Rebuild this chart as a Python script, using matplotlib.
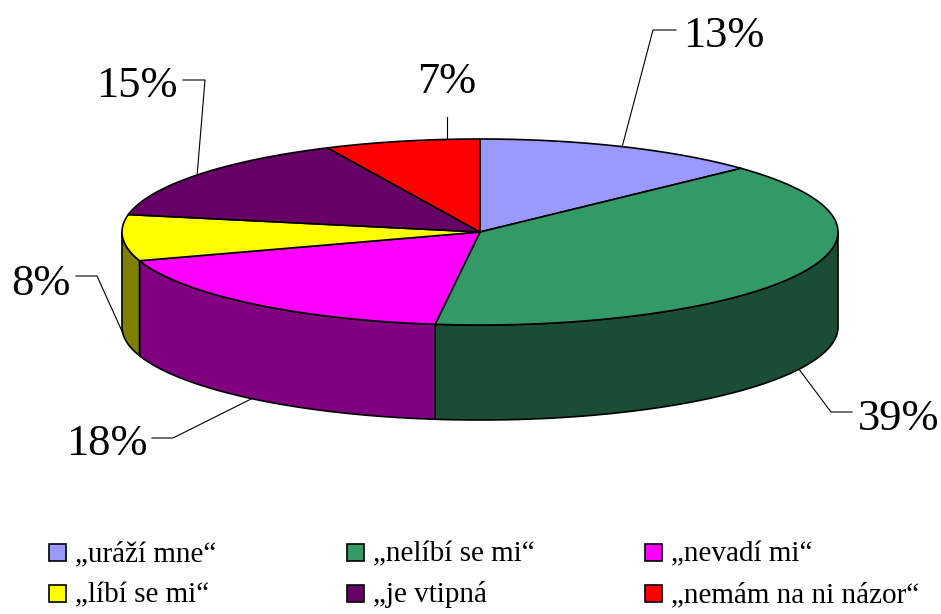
import numpy as np
import matplotlib
matplotlib.use('Agg')
import matplotlib.pyplot as plt
from matplotlib.patches import Polygon, Rectangle

plt.rcParams['font.family'] = ['Liberation Serif', 'DejaVu Serif']

# Data
labels = ['„uráží mne“', '„nelíbí se mi“', '„nevadí mi“',
          '„líbí se mi“', '„je vtipná', '„nemám na ni názor“']
values = [13, 39, 18, 8, 15, 7]
colors = ['#9999FF', '#339966', '#FF00FF', '#FFFF00', '#660066', '#FF0000']
side_colors = ['#4D4D80', '#1A4D33', '#800080', '#808000', '#330033', '#800000']

# Pie geometry (pixels)
CX, CY, RX, RY, DEPTH = 480, 232, 358, 93, 95

# Percentage labels: text x, baseline y, alignment, leader line points before the slice
label_pos = [(683, 47, 'left'), (858, 430, 'left'), (148, 455, 'right'),
             (71, 295, 'right'), (178, 97, 'right'), (447, 93, 'center')]
leader_pts = [[(676, 30), (653, 30)], [(852, 412), (831, 412)],
              [(152, 438), (173, 438)], [(76, 276), (97, 276)],
              [(183, 80), (205, 80)], [(447, 117), (447, 139)]]
to_slice = [True, True, True, True, True, False]

# Legend layout
leg_x = [49, 347, 645]
leg_y = [561, 602]


def ell(t, dy=0):
    t = np.radians(t)
    return CX + RX * np.cos(t), CY - RY * np.sin(t) + dy


def arc(t0, t1, dy=0, n=120):
    ts = np.linspace(t0, t1, n)
    x, y = ell(ts, dy)
    return np.column_stack([x, y])


fig = plt.figure(figsize=(9.41, 6.14), dpi=100)
ax = fig.add_axes([0, 0, 1, 1])
ax.set_xlim(0, 941)
ax.set_ylim(614, 0)
ax.axis('off')

total = float(sum(values))
cum = np.concatenate([[0], np.cumsum(values)]) / total
starts = 90 - 360 * cum[:-1]
ends = 90 - 360 * cum[1:]

# side walls (front half of the cylinder, t in [-180, 0])
for i in range(len(values)):
    lo = max(ends[i], -180)
    hi = min(starts[i], 0)
    if lo >= hi:
        continue
    top = arc(lo, hi)
    bot = arc(hi, lo, DEPTH)
    ax.add_patch(Polygon(np.vstack([top, bot]), closed=True, fc=side_colors[i],
                         ec='black', lw=1.2, joinstyle='round'))

# top faces
for i in range(len(values)):
    pts = np.vstack([[CX, CY], arc(starts[i], ends[i])])
    ax.add_patch(Polygon(pts, closed=True, fc=colors[i], ec='black', lw=1.2,
                         joinstyle='round'))

# percentage labels with leader lines
for i, v in enumerate(values):
    tm = (starts[i] + ends[i]) / 2
    if np.sin(np.radians(tm)) < 0:
        anchor = ell(tm, DEPTH)
    else:
        anchor = ell(tm)
    pts = list(leader_pts[i])
    if to_slice[i]:
        pts.append(anchor)
    ax.plot([p[0] for p in pts], [p[1] for p in pts], color='black', lw=0.8)
    x, y, ha = label_pos[i]
    ax.text(x, y, f'{v}%', fontsize=32, ha=ha, va='baseline')

# legend (row-wise, three columns)
for i, lab in enumerate(labels):
    x = leg_x[i % 3]
    y = leg_y[i // 3]
    ax.add_patch(Rectangle((x, y - 17), 17, 17, fc=colors[i], ec='black', lw=1.2))
    ax.text(x + 26, y, lab, fontsize=21, ha='left', va='baseline')

fig.savefig('out.png', dpi=100)
